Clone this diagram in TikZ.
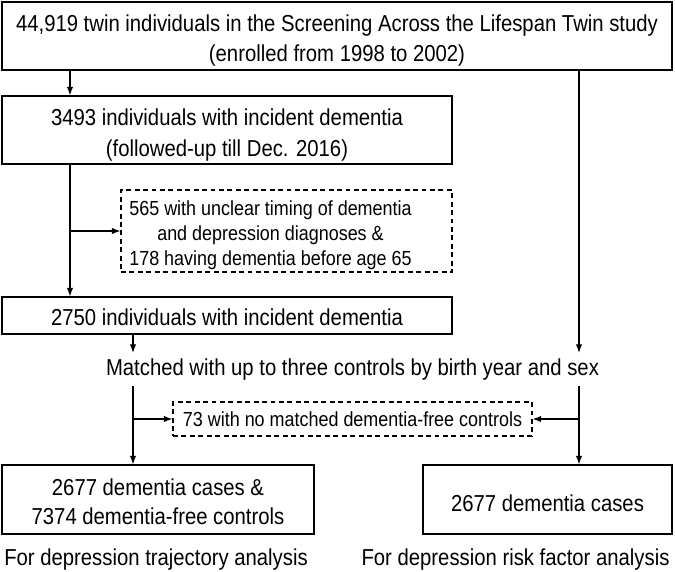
\documentclass[tikz,border=0pt]{standalone}
\usepackage{fontspec}
\setmainfont{Liberation Sans}[FakeStretch=0.88]
\usetikzlibrary{arrows.meta}

\begin{document}
\begin{tikzpicture}[
        x=0.025cm, y=-0.025cm,
        every node/.style={
            font=\fontsize{16.4}{21}\selectfont
        },
        box/.style={draw, line width=0.9pt, align=center, inner sep=0pt},
        exbox/.style={draw, dash pattern=on 3.5pt off 2.5pt, line width=0.8pt, inner sep=0pt},
        textdrop/.style={execute at begin node={\rule{0pt}{#1}}},
        flow/.style={line width=0.8pt, -{Latex[length=6pt,width=4.5pt]}}
    ]
        \useasboundingbox (0,0) rectangle (675,571);

        % trunk positions
        \coordinate (lx) at (70,0);
        \coordinate (mx) at (133,0);
        \coordinate (rx) at (579,0);

        % COHORT
        \node[box, minimum width=16.75cm, minimum height=1.7cm,
            font=\fontsize{16.4}{21.3}\selectfont] (cohort) at (337,36)
            {\rule{0pt}{19pt}44,919 twin individuals in the Screening Across the Lifespan Twin study\\
             (enrolled from 1998 to 2002)};

        \node[box, minimum width=11.25cm, minimum height=1.7cm,
            font=\fontsize{16.4}{22.7}\selectfont] (inc) at (227,130)
            {\rule{0pt}{19pt}3493 individuals with incident dementia\\
             (followed-up till Dec. 2016)};

        % first exclusion
        \node[exbox, minimum width=8.275cm, minimum height=2.05cm] (excl1) at (286.5,231) {};
        \node[align=center, font=\fontsize{14.5}{17.7}\selectfont] (excl1txt) at (270.5,235)
            {565 with unclear timing of dementia\\
             and depression diagnoses \&\\
             178 having dementia before age 65};

        \node[box, minimum width=11.25cm, minimum height=0.925cm, textdrop=14.8pt] (dem) at (227,315.5)
            {2750 individuals with incident dementia};

        % MATCHING
        \node[inner sep=4pt] (match) at (352.5,369.5)
            {Matched with up to three controls by birth year and sex};

        \node[exbox, minimum width=8.975cm, minimum height=0.85cm,
            font=\fontsize{14.5}{15}\selectfont] (excl2) at (352.5,419)
            {73 with no matched dementia-free controls};

        % FINAL SAMPLES
        \node[box, minimum width=7.8cm, minimum height=1.725cm,
            font=\fontsize{16.4}{20.6}\selectfont] (traj) at (158,499.5)
            {\rule{0pt}{14.8pt}2677 dementia cases \&\\
             7374 dementia-free controls};

        \node[box, minimum width=6.225cm, minimum height=1.725cm, textdrop=17.6pt] (risk) at (547.5,499.5)
            {2677 dementia cases};

        \node (cap1) at (156,560) {For depression trajectory analysis};
        \node (cap2) at (515.5,560) {For depression risk factor analysis};

        % arrows
        \draw[flow] (cohort.south -| lx) -- (inc.north -| lx);
        \draw[flow] (inc.south -| lx) -- (dem.north -| lx);
        \draw[flow] (excl1.west -| lx) -- (excl1.west);
        \draw[flow] (dem.south -| mx) -- (match.north -| mx);
        \draw[flow] (cohort.south -| rx) -- (match.north -| rx);
        \draw[flow] (match.south -| mx) -- (traj.north -| mx);
        \draw[flow] (match.south -| rx) -- (risk.north -| rx);
        \draw[flow] (excl2.west -| mx) -- (excl2.west);
        \draw[flow] (excl2.east -| rx) -- (excl2.east);
    \end{tikzpicture}
\end{document}
